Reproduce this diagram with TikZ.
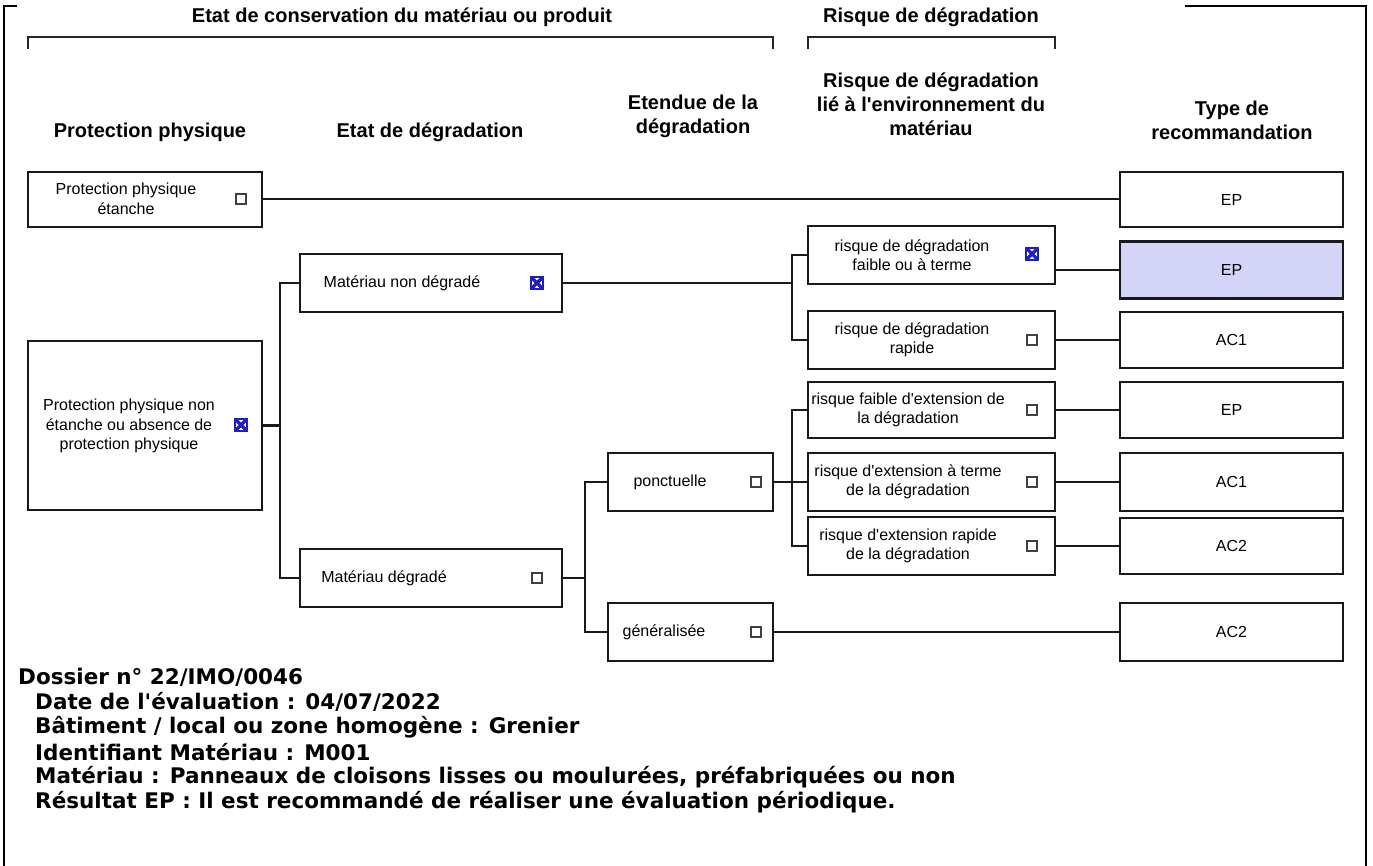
\documentclass[tikz,border=0pt]{standalone}
\usepackage{fontspec}
\setmainfont{Liberation Sans}[Ligatures=TeXOff]
\newfontfamily\dvb{DejaVu Sans}
\definecolor{lnk}{RGB}{25,25,25}
\definecolor{chk}{RGB}{30,30,200}
\definecolor{sel}{RGB}{212,212,248}
\begin{document}
\begin{tikzpicture}[x=1pt,y=-1pt,
  box/.style={draw=lnk, line width=2.2pt, inner sep=0pt},
  txt/.style={align=center, inner sep=0pt, font=\fontsize{16}{19.5}\selectfont},
  hdr/.style={align=center, inner sep=0pt, font=\fontsize{20}{24}\selectfont\bfseries},
  foot/.style={anchor=west, inner sep=0pt, font=\dvb\bfseries\fontsize{21.5}{25}\selectfont},
  cb/.style={draw=black!75, line width=1.2pt, minimum size=10pt, inner sep=0pt},
  cbx/.style={draw=chk, line width=1.2pt, minimum size=12pt, inner sep=0pt,
    path picture={\draw[chk, line width=3.2pt] (path picture bounding box.south west) -- (path picture bounding box.north east) (path picture bounding box.north west) -- (path picture bounding box.south east);}},
  conn/.style={draw=lnk, line width=2.2pt},
  brk/.style={draw=black!85, line width=2.2pt}
]
\useasboundingbox (0,0) rectangle (1373,866);
\fill[white] (0,0) rectangle (1373,866);

% frame
\draw[line width=2.5pt] (17,6) -- (4,6) -- (4,866);
\draw[line width=1.2pt] (1185,6) -- (1350,6);
\draw[line width=2.5pt] (1350,6) -- (1366,6) -- (1366,866);

% group headers and brackets
\node[hdr] (g1) at (402,17) {Etat de conservation du matériau ou produit};
\node[hdr] (g2) at (931,17) {Risque de dégradation};
\draw[brk] (28,49) -- (28,37) -- (773,37) -- (773,49);
\draw[brk] (808,49) -- (808,37) -- (1055,37) -- (1055,49);

% column headers
\node[hdr] (h1) at (150,132) {Protection physique};
\node[hdr] (h2) at (430,132) {Etat de dégradation};
\node[hdr] (h3) at (693,116) {Etendue de la\\dégradation};
\node[hdr] (h4) at (931,104) {Risque de dégradation\\lié à l'environnement du\\matériau};
\node[hdr] (h5) at (1232,120) {Type de\\recommandation};

% column 1
\node[box, minimum width=234, minimum height=55] (ppe) at (145,199.5) {};
\node[txt] (ppet) at (126,199) {Protection physique\\étanche};
\node[cb] (ppec) at (241,199) {};
\node[box, minimum width=234, minimum height=169] (big) at (145,425.5) {};
\node[txt] (bigt) at (129,426) {Protection physique non\\étanche ou absence de\\protection physique};
\node[cbx] (bigc) at (241,425) {};

% column 2
\node[box, minimum width=262, minimum height=58] (mnd) at (431,283) {};
\node[txt] (mndt) at (402,283) {Matériau non dégradé};
\node[cbx] (mndc) at (537,283) {};
\node[box, minimum width=262, minimum height=58] (md) at (431,578) {};
\node[txt] (mdt) at (384,578) {Matériau dégradé};
\node[cb] (mdc) at (537,578) {};

% column 3
\node[box, minimum width=165, minimum height=58] (ponc) at (690.5,482) {};
\node[txt] (ponct) at (670,482) {ponctuelle};
\node[cb] (poncc) at (756,482) {};
\node[box, minimum width=165, minimum height=58] (gen) at (690.5,632) {};
\node[txt] (gent) at (664,632) {généralisée};
\node[cb] (genc) at (756,632) {};

% column 4
\node[box, minimum width=247, minimum height=58] (r1) at (931.5,255) {};
\node[txt] (r1t) at (912,255) {risque de dégradation\\faible ou à terme};
\node[cbx] (r1c) at (1032,254) {};
\node[box, minimum width=247, minimum height=58] (r2) at (931.5,340) {};
\node[txt] (r2t) at (912,340) {risque de dégradation\\rapide};
\node[cb] (r2c) at (1032,340) {};
\node[box, minimum width=247, minimum height=56] (r3) at (931.5,410) {};
\node[txt] (r3t) at (908,410) {risque faible d'extension de\\la dégradation};
\node[cb] (r3c) at (1032,410) {};
\node[box, minimum width=247, minimum height=58] (r4) at (931.5,482) {};
\node[txt] (r4t) at (908,482) {risque d'extension à terme\\de la dégradation};
\node[cb] (r4c) at (1032,482) {};
\node[box, minimum width=247, minimum height=58] (r5) at (931.5,546) {};
\node[txt] (r5t) at (908,546) {risque d'extension rapide\\de la dégradation};
\node[cb] (r5c) at (1032,546) {};

% column 5
\node[box, minimum width=223, minimum height=55] (e1) at (1231.5,199.5) {};
\node[box, fill=sel, minimum width=223, minimum height=57] (e2) at (1231.5,270) {};
\node[box, minimum width=223, minimum height=56] (e3) at (1231.5,340) {};
\node[box, minimum width=223, minimum height=56] (e4) at (1231.5,410) {};
\node[box, minimum width=223, minimum height=58] (e5) at (1231.5,482) {};
\node[box, minimum width=223, minimum height=56] (e6) at (1231.5,546) {};
\node[box, minimum width=223, minimum height=58] (e7) at (1231.5,632) {};
\node[txt] (e1t) at (e1) {EP};
\node[txt] (e2t) at (e2) {EP};
\node[txt] (e3t) at (e3) {AC1};
\node[txt] (e4t) at (e4) {EP};
\node[txt] (e5t) at (e5) {AC1};
\node[txt] (e6t) at (e6) {AC2};
\node[txt] (e7t) at (e7) {AC2};

% junctions
\coordinate (j1) at (280,425.5);
\coordinate (j2) at (585,578);
\coordinate (j3) at (792,283);
\coordinate (j4) at (792,482);

% connectors
\draw[conn] (ppe.east |- ppec) -- (e1.west |- ppec);
\draw[conn] (big.east |- j1) -- (j1);
\draw[conn] (mnd.west) -| (j1);
\draw[conn] (md.west) -| (j1);
\draw[conn] (mnd.east) -- (j3);
\draw[conn] (r1.west) -| (j3);
\draw[conn] (r2.west) -| (j3);
\draw[conn] (md.east) -- (j2);
\draw[conn] (ponc.west) -| (j2);
\draw[conn] (gen.west) -| (j2);
\draw[conn] (ponc.east) -- (r4.west);
\draw[conn] (r3.west) -| (j4);
\draw[conn] (r5.west) -| (j4);
\draw[conn] (r1.east |- e2.west) -- (e2.west);
\draw[conn] (r2.east) -- (e3.west);
\draw[conn] (r3.east) -- (e4.west);
\draw[conn] (r4.east) -- (e5.west);
\draw[conn] (r5.east) -- (e6.west);
\draw[conn] (gen.east) -- (e7.west);

% footer
\node[foot] (f1) at (18,677) {Dossier n° 22/IMO/0046};
\node[foot] (f2) at (35,702) {Date de l'évaluation : 04/07/2022};
\node[foot] (f3) at (35,727) {Bâtiment / local ou zone homogène : Grenier};
\node[foot] (f4) at (35,752) {Identifiant Matériau : M001};
\node[foot] (f5) at (35,777) {Matériau : Panneaux de cloisons lisses ou moulurées, préfabriquées ou non};
\node[foot] (f6) at (35,802) {Résultat EP : Il est recommandé de réaliser une évaluation périodique.};
\end{tikzpicture}
\end{document}
